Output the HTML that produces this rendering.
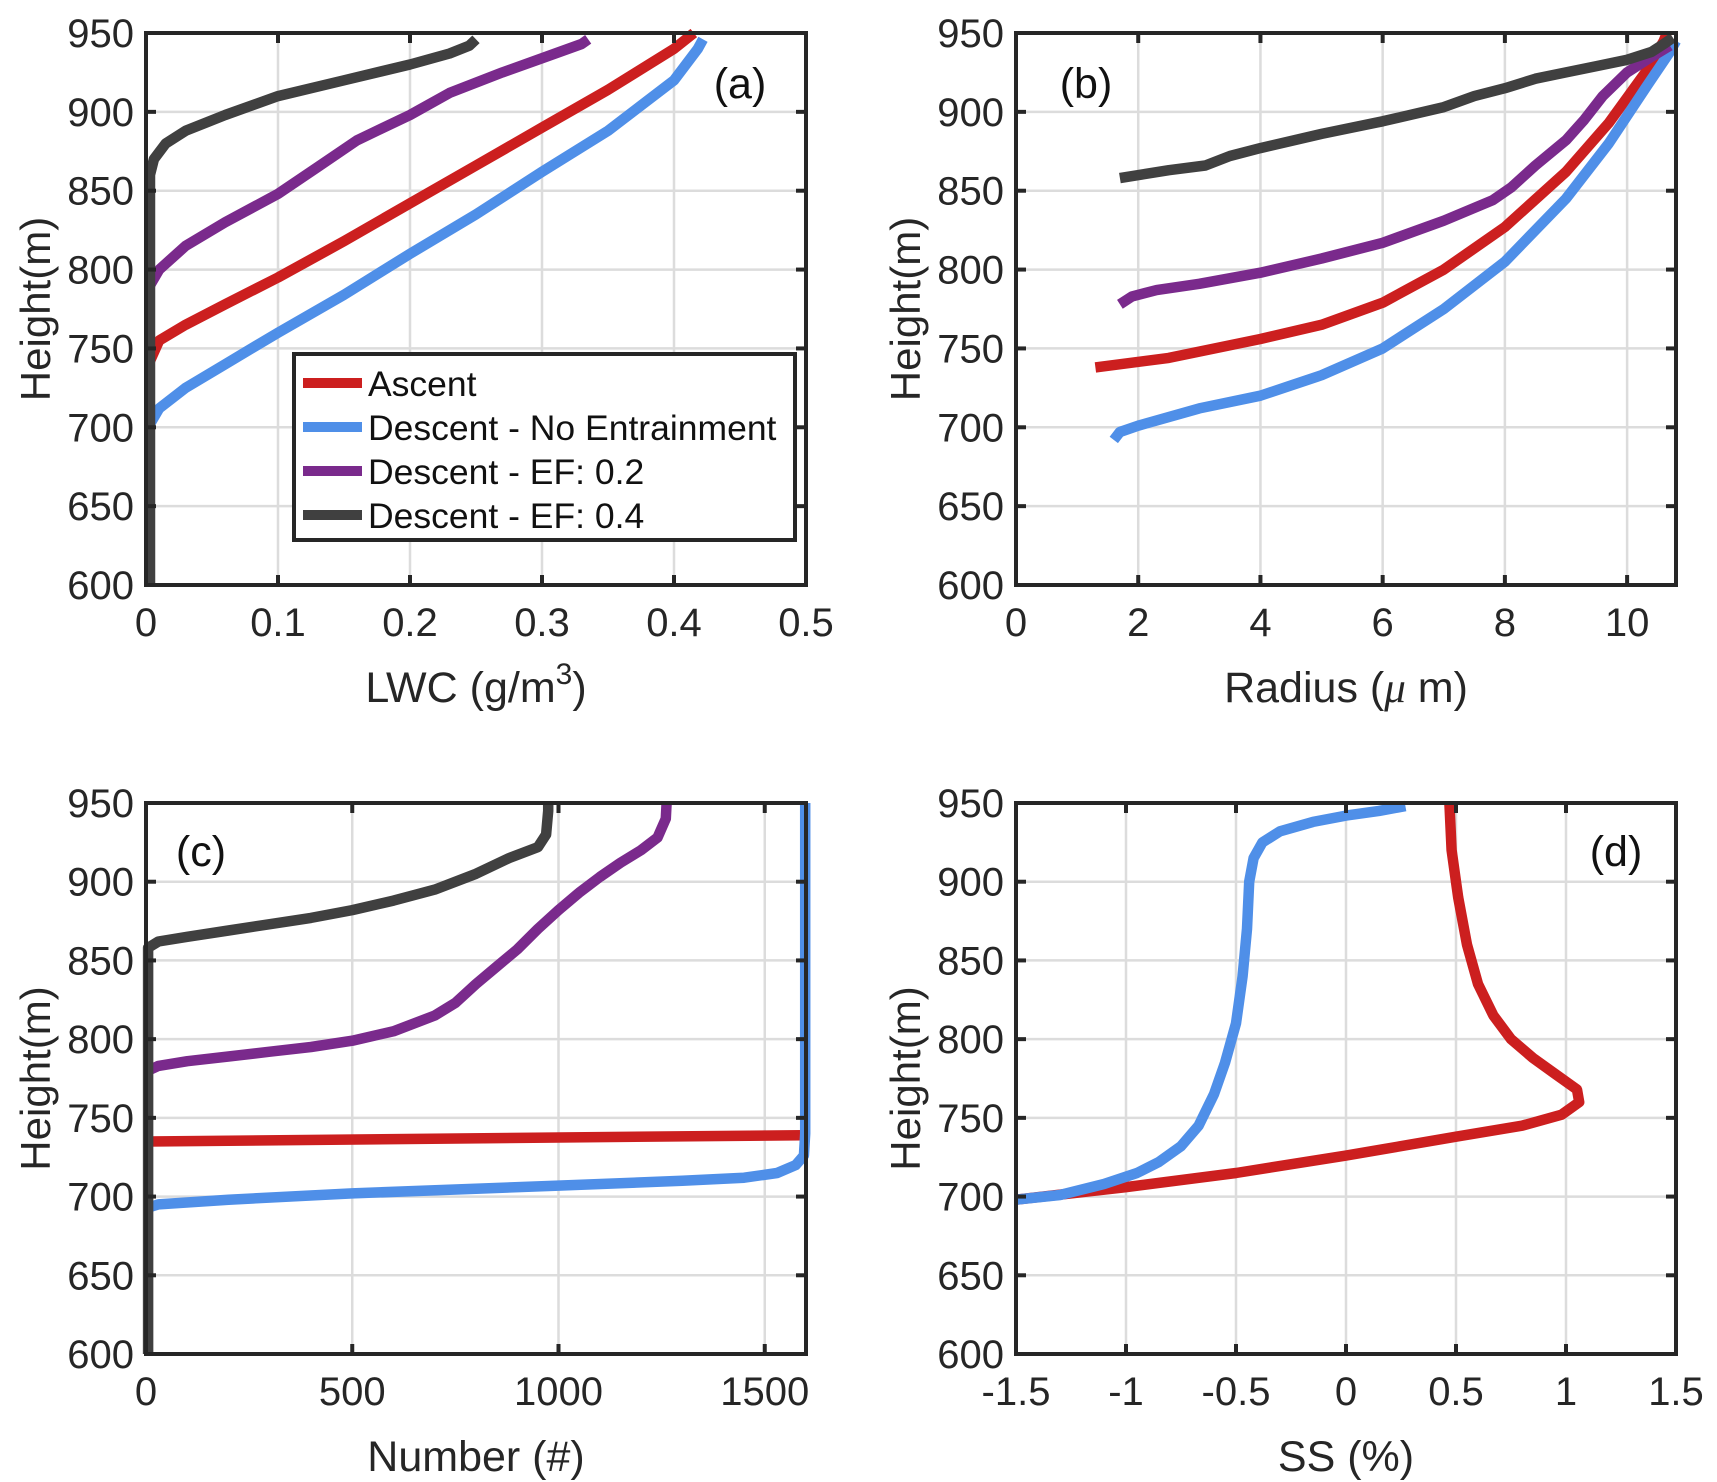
<!DOCTYPE html>
<html><head><meta charset="utf-8"><style>
body{margin:0;background:#fff}
svg{display:block;font-family:"Liberation Sans",Arial,sans-serif}
</style></head><body>
<svg id="fig" width="1717" height="1482" viewBox="0 0 1717 1482" xmlns="http://www.w3.org/2000/svg"></svg>
<script>
const yTicks=[600,650,700,750,800,850,900,950];
const xTicksA=[0,0.1,0.2,0.3,0.4,0.5];
const xTicksB=[0,2,4,6,8,10];
const xTicksC=[0,500,1000,1500];
const xTicksD=[-1.5,-1,-0.5,0,0.5,1,1.5];
const xTickLabelsD=["-1.5","-1","-0.5","0","0.5","1","1.5"];
// Panel a: LWC [x, height]
const aAscent=[[0.003,742],[0.01,755],[0.03,765],[0.06,778],[0.1,795],[0.15,818],[0.2,842],[0.25,866],[0.3,890],[0.35,914],[0.4,940],[0.415,950]];
const aDescentNoEnt=[[0.003,702],[0.01,712],[0.03,725],[0.06,740],[0.1,760],[0.15,784],[0.2,810],[0.25,835],[0.3,862],[0.35,888],[0.4,920],[0.418,940],[0.422,946]];
const aDescentEF02=[[0.003,790],[0.01,800],[0.03,815],[0.06,830],[0.1,848],[0.13,865],[0.16,882],[0.2,898],[0.23,912],[0.27,925],[0.31,937],[0.33,943],[0.335,946]];
const aDescentEF04=[[0.003,600],[0.003,860],[0.006,870],[0.015,880],[0.03,888],[0.06,898],[0.1,910],[0.15,920],[0.2,930],[0.23,937],[0.245,942],[0.25,946]];
// Panel b: Radius
const bAscent=[[1.3,738],[2.5,744],[4,756],[5,765],[6,779],[7,800],[8,827],[9,862],[9.7,893],[10.3,925],[10.6,945],[10.65,950]];
const bDescentNoEnt=[[1.6,692],[1.7,697],[2,701],[3,712],[4,720],[5,733],[6,750],[7,775],[8,805],[9,845],[9.7,880],[10.3,915],[10.7,938],[10.8,945]];
const bDescentEF02=[[1.7,778],[1.9,783],[2.3,787],[3,791],[4,798],[5,807],[6,817],[7,831],[7.8,844],[8.1,852],[8.5,866],[9,882],[9.3,895],[9.6,910],[10,925],[10.4,935],[10.7,942]];
const bDescentEF04=[[1.7,858],[2.5,863],[3.1,866],[3.5,872],[4,877],[5,886],[6,894],[7,903],[7.5,910],[8,915],[8.5,921],[9,925],[9.5,929],[10,933],[10.4,938],[10.6,943],[10.75,947]];
// Panel c: Number
const cAscent=[[5,735],[1590,739]];
const cDescentNoEnt=[[5,693],[30,695],[200,698],[500,702],[1000,707],[1300,710],[1450,712],[1530,715],[1575,720],[1595,726],[1598,740],[1598,950]];
const cDescentEF02=[[5,780],[30,783],[100,786],[200,789],[300,792],[400,795],[500,799],[600,805],[700,815],[750,823],[800,835],[850,846],[900,857],[950,870],[1000,882],[1050,893],[1100,903],[1150,912],[1200,920],[1240,928],[1260,940],[1262,950]];
const cDescentEF04=[[5,600],[5,858],[30,862],[100,865],[200,869],[300,873],[400,877],[500,882],[600,888],[700,895],[800,905],[880,915],[950,922],[970,930],[975,945],[975,950]];
// Panel d: SS
const dAscent=[[-1.5,698],[-1,706],[-0.5,715],[0,726],[0.5,738],[0.8,745],[0.98,752],[1.06,760],[1.05,768],[0.95,778],[0.85,788],[0.75,800],[0.67,815],[0.6,835],[0.55,860],[0.51,890],[0.48,920],[0.47,950]];
const dDescentNoEnt=[[-1.5,698],[-1.3,701],[-1.1,708],[-0.95,715],[-0.85,722],[-0.75,732],[-0.67,745],[-0.6,765],[-0.55,785],[-0.5,810],[-0.47,840],[-0.45,870],[-0.44,900],[-0.42,915],[-0.38,925],[-0.3,932],[-0.15,938],[0,942],[0.15,945],[0.27,948]];

const NS="http://www.w3.org/2000/svg";
const svg=document.getElementById('fig');
const C={red:"#cc1f1f",blue:"#4f8fe8",purple:"#7a2a8c",black:"#404040",axis:"#262626"};
function mk(tag,attrs,parent){const e=document.createElementNS(NS,tag);for(const k in attrs)e.setAttribute(k,attrs[k]);(parent||svg).appendChild(e);return e;}

function panel(cfg){
  const g=mk('g',{});
  
  
  const {x0,x1,y0,y1,xmin,xmax}=cfg;
  const sx=v=>x0+(v-xmin)/(xmax-xmin)*(x1-x0);
  const sy=v=>y1-(v-600)/350*(y1-y0);
  cfg.xticks.forEach(t=>{const X=sx(t);if(X>x0+2&&X<x1-2){const l=mk('line',{x1:X,x2:X,y1:y0,y2:y1,stroke:"#dcdcdc","stroke-width":2.5},g);}});
  yTicks.forEach(t=>{const Y=sy(t);if(Y>y0+2&&Y<y1-2){const l=mk('line',{x1:x0,x2:x1,y1:Y,y2:Y,stroke:"#dcdcdc","stroke-width":2.5},g);}});
  cfg.series.forEach(s=>{
    const d=s.data.map((p,i)=>(i?'L':'M')+sx(p[0]).toFixed(1)+','+sy(p[1]).toFixed(1)).join('');
    const p=mk('path',{d:d,fill:"none",stroke:s.color,"stroke-width":10.5,"stroke-linejoin":"round","stroke-linecap":"butt"},g);
    
    
  });
  const r=mk('rect',{x:x0,y:y0,width:x1-x0,height:y1-y0,fill:"none",stroke:C.axis,"stroke-width":4},g);
  
  
  cfg.xticks.forEach((t,i)=>{const X=sx(t);
    mk('line',{x1:X,x2:X,y1:y1,y2:y1-10,stroke:C.axis,"stroke-width":4},g);
    mk('line',{x1:X,x2:X,y1:y0,y2:y0+10,stroke:C.axis,"stroke-width":4},g);
    const tx=mk('text',{x:X,y:y1+51,"text-anchor":"middle","font-size":40,fill:C.axis},g);
    tx.textContent=cfg.xlabels?cfg.xlabels[i]:String(t);
    
    
  });
  yTicks.forEach(t=>{const Y=sy(t);
    mk('line',{x1:x0,x2:x0+10,y1:Y,y2:Y,stroke:C.axis,"stroke-width":4},g);
    mk('line',{x1:x1,x2:x1-10,y1:Y,y2:Y,stroke:C.axis,"stroke-width":4},g);
    const tx=mk('text',{x:x0-12,y:Y+14,"text-anchor":"end","font-size":40,fill:C.axis},g);
    tx.textContent=String(t);
    
    
  });
  const yl=mk('text',{x:0,y:0,transform:`translate(${x0-96},${(y0+y1)/2}) rotate(-90)`,"text-anchor":"middle","font-size":42,fill:C.axis},g);
  yl.textContent="Height(m)";
  
  
  const xl=mk('text',{x:(x0+x1)/2,y:y1+117,"text-anchor":"middle","font-size":43,fill:C.axis},g);
  xl.innerHTML=cfg.xtitle;
  
  
  const pl=mk('text',{x:cfg.lab[0],y:cfg.lab[1],"text-anchor":"middle","font-size":43,fill:"#111"},g);
  pl.textContent=cfg.labText;
  
  
  return g;
}

panel({name:'panel-a',x0:146,x1:806,y0:33,y1:585,xmin:0,xmax:0.5,xticks:xTicksA,
  xtitle:'LWC (g/m<tspan dy="-18" font-size="30">3</tspan><tspan dy="18">)</tspan>',lab:[740,98],labText:"(a)",
  series:[{name:'ascent-line',data:aAscent,color:C.red},{name:'descent-no-entrainment-line',data:aDescentNoEnt,color:C.blue},{name:'descent-ef02-line',data:aDescentEF02,color:C.purple},{name:'descent-ef04-line',data:aDescentEF04,color:C.black}]});
panel({name:'panel-b',x0:1016,x1:1676,y0:33,y1:585,xmin:0,xmax:10.8,xticks:xTicksB,
  xtitle:'Radius (<tspan font-family="Liberation Serif" font-style="italic">μ</tspan> m)',lab:[1086,98],labText:"(b)",
  series:[{name:'ascent-line',data:bAscent,color:C.red},{name:'descent-no-entrainment-line',data:bDescentNoEnt,color:C.blue},{name:'descent-ef02-line',data:bDescentEF02,color:C.purple},{name:'descent-ef04-line',data:bDescentEF04,color:C.black}]});
panel({name:'panel-c',x0:146,x1:806,y0:803,y1:1354,xmin:0,xmax:1600,xticks:xTicksC,
  xtitle:'Number (#)',lab:[201,866],labText:"(c)",
  series:[{name:'ascent-line',data:cAscent,color:C.red},{name:'descent-no-entrainment-line',data:cDescentNoEnt,color:C.blue},{name:'descent-ef02-line',data:cDescentEF02,color:C.purple},{name:'descent-ef04-line',data:cDescentEF04,color:C.black}]});
panel({name:'panel-d',x0:1016,x1:1676,y0:803,y1:1354,xmin:-1.5,xmax:1.5,xticks:xTicksD,xlabels:xTickLabelsD,
  xtitle:'SS (%)',lab:[1616,866],labText:"(d)",
  series:[{name:'ascent-line',data:dAscent,color:C.red},{name:'descent-no-entrainment-line',data:dDescentNoEnt,color:C.blue}]});

const lg=mk('g',{});


const lb=mk('rect',{x:294,y:354,width:501,height:186,fill:"#fff",stroke:C.axis,"stroke-width":4},lg);


const legNames=["Ascent","Descent - No Entrainment","Descent - EF: 0.2","Descent - EF: 0.4"];
const legColors=[C.red,C.blue,C.purple,C.black];
legNames.forEach((n,i)=>{
  const Y=383+i*44;
  const e=mk('g',{},lg);
  
  
  mk('line',{x1:303,x2:362,y1:Y,y2:Y,stroke:legColors[i],"stroke-width":10},e);
  const t=mk('text',{x:368,y:Y+13,"font-size":35.5,fill:"#111"},e);
  t.textContent=n;
});
</script>
</body></html>
